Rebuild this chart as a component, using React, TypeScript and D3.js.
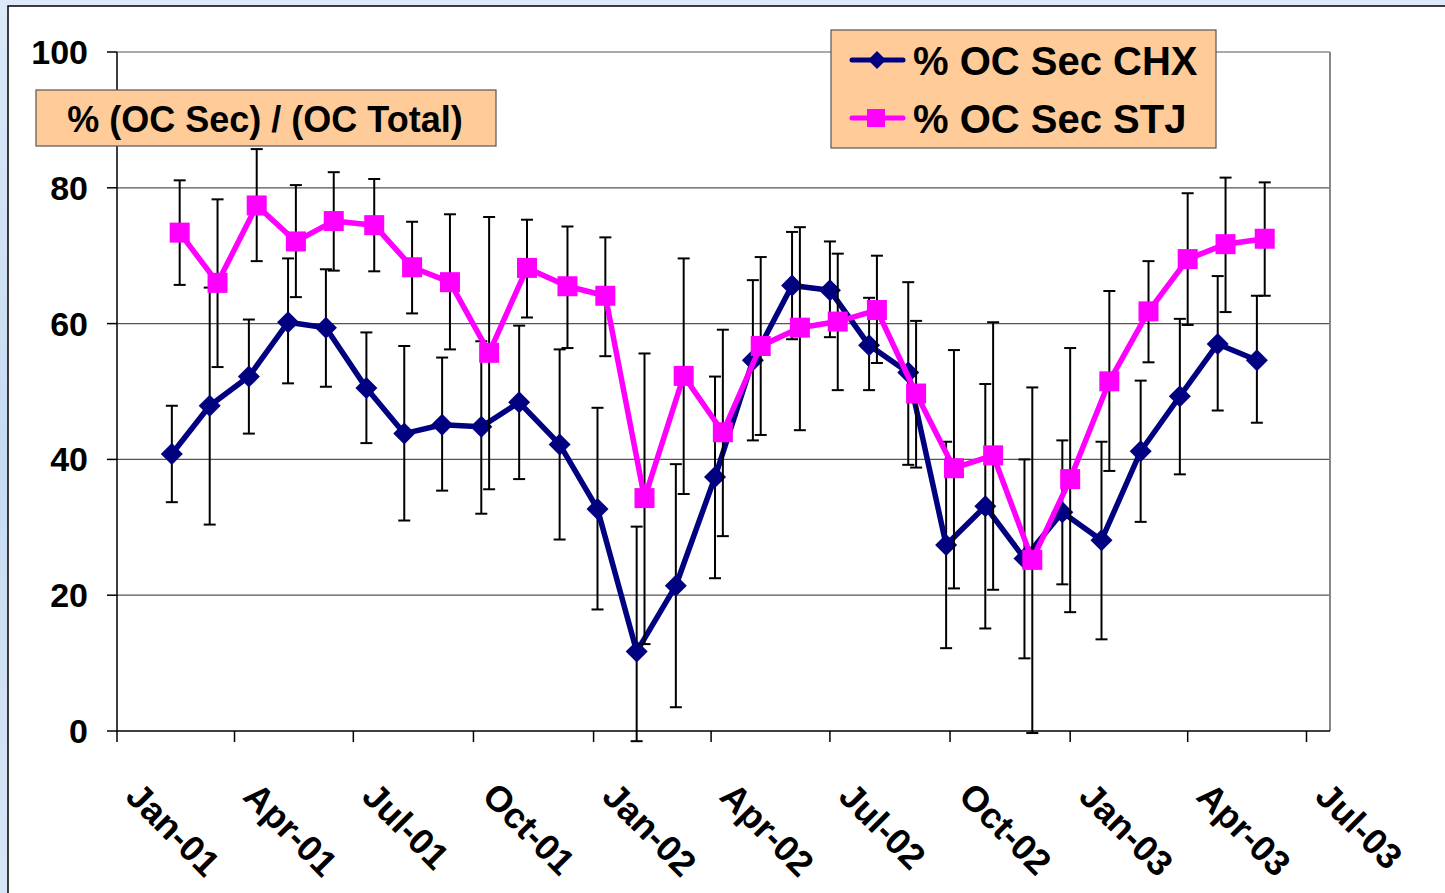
import React from "react";
import * as d3 from "d3";

// sample dates
const chxDates = [
  "2001-02-12", "2001-03-13", "2001-04-12", "2001-05-12", "2001-06-10", "2001-07-11",
  "2001-08-09", "2001-09-07", "2001-10-07", "2001-11-05", "2001-12-06", "2002-01-04",
  "2002-02-03", "2002-03-05", "2002-04-04", "2002-05-03", "2002-06-02", "2002-07-01",
  "2002-07-31", "2002-08-30", "2002-09-28", "2002-10-28", "2002-11-27", "2002-12-26",
  "2003-01-25", "2003-02-24", "2003-03-26", "2003-04-24", "2003-05-24",
];
const stjDates = [
  "2001-02-18", "2001-03-19", "2001-04-18", "2001-05-18", "2001-06-16", "2001-07-17",
  "2001-08-15", "2001-09-13", "2001-10-13", "2001-11-11", "2001-12-12", "2002-01-10",
  "2002-02-09", "2002-03-11", "2002-04-10", "2002-05-09", "2002-06-08", "2002-07-07",
  "2002-08-06", "2002-09-05", "2002-10-04", "2002-11-03", "2002-12-03", "2003-01-01",
  "2003-01-31", "2003-03-02", "2003-04-01", "2003-04-30", "2003-05-30",
];

const chxValues = [40.8, 47.9, 52.2, 60.2, 59.4, 50.5, 43.8, 45.1, 44.8, 48.4, 42.2, 32.7, 11.7, 21.4, 37.4, 54.6, 65.6, 64.9, 56.8, 52.8, 27.4, 33.1, 25.4, 32.2, 28.1, 41.2, 49.3, 57.0, 54.6];
const chxHigh = [47.9, 65.3, 60.6, 69.6, 68.0, 58.7, 56.7, 55.0, 57.4, 59.7, 56.2, 47.6, 30.1, 39.3, 52.2, 66.4, 73.5, 72.1, 63.8, 66.1, 42.6, 51.1, 40.0, 42.8, 42.6, 51.6, 60.7, 67.0, 64.1];
const chxLow = [33.7, 30.4, 43.8, 51.2, 50.7, 42.4, 31.0, 35.4, 32.0, 37.1, 28.2, 17.9, -1.5, 3.5, 22.5, 42.8, 57.7, 58.0, 50.2, 39.2, 12.2, 15.1, 10.7, 21.6, 13.5, 30.8, 37.8, 47.2, 45.4];

const stjValues = [73.4, 66.0, 77.4, 72.1, 75.1, 74.5, 68.3, 66.1, 55.7, 68.2, 65.5, 64.1, 34.3, 52.3, 44.0, 56.7, 59.4, 60.3, 62.0, 49.7, 38.7, 40.6, 25.2, 37.1, 51.5, 61.8, 69.5, 71.7, 72.5];
const stjHigh = [81.1, 78.3, 85.7, 80.4, 82.3, 81.3, 75.0, 76.1, 75.7, 75.3, 74.3, 72.7, 55.6, 69.6, 59.1, 69.8, 74.2, 70.3, 70.0, 60.4, 56.1, 60.2, 50.6, 56.4, 64.8, 69.2, 79.2, 81.5, 80.8];
const stjLow = [65.7, 53.6, 69.2, 63.9, 67.8, 67.7, 61.5, 56.2, 35.6, 60.9, 56.4, 55.2, 12.8, 34.9, 28.7, 43.6, 44.3, 50.2, 54.2, 38.8, 21.0, 20.8, -0.3, 17.5, 38.3, 54.3, 59.8, 61.7, 64.1];

const xTickDates = ["2001-01-01", "2001-04-01", "2001-07-01", "2001-10-01", "2002-01-01", "2002-04-01", "2002-07-01", "2002-10-01", "2003-01-01", "2003-04-01", "2003-07-01"];
const xTickLabels = ["Jan-01", "Apr-01", "Jul-01", "Oct-01", "Jan-02", "Apr-02", "Jul-02", "Oct-02", "Jan-03", "Apr-03", "Jul-03"];
const yTicks = [0, 20, 40, 60, 80, 100];

const W = 1445;
const H = 893;
const FONT = "'Liberation Sans', Arial, sans-serif";
const parse = d3.timeParse("%Y-%m-%d");

export default function App() {
  const x = d3
    .scaleTime()
    .domain([parse("2001-01-01")!, parse("2003-07-19")!])
    .range([117, 1330]);
  const y = d3.scaleLinear().domain([0, 100]).range([731, 52]);

  const series = [
    { name: "% OC Sec CHX", color: "#000080", dates: chxDates, values: chxValues, high: chxHigh, low: chxLow, marker: "diamond" },
    { name: "% OC Sec STJ", color: "#ff00ff", dates: stjDates, values: stjValues, high: stjHigh, low: stjLow, marker: "square" },
  ];

  const line = d3
    .line<[Date, number]>()
    .x((d) => x(d[0]))
    .y((d) => y(d[1]));

  const marker = (kind: string, cx: number, cy: number, color: string, key: any) =>
    kind === "diamond" ? (
      <path key={key} d={`M${cx},${cy - 11}L${cx + 11},${cy}L${cx},${cy + 11}L${cx - 11},${cy}Z`} fill={color} />
    ) : (
      <rect key={key} x={cx - 10} y={cy - 10} width={20} height={20} fill={color} />
    );

  return (
    <div style={{ position: "absolute", left: 0, top: 0 }}>
      <svg width={W} height={H} style={{ display: "block" }}>
        <defs>
          <linearGradient id="bg" x1="0" y1="0" x2="0" y2="1">
            <stop offset="0" stopColor="#dbe9f8" />
            <stop offset="0.5" stopColor="#c7dbf1" />
            <stop offset="1" stopColor="#d6e6f6" />
          </linearGradient>
        </defs>
        <rect width={W} height={H} fill="url(#bg)" />
        <rect x={8} y={6} width={W + 20} height={H + 20} fill="#fff" stroke="#000" strokeWidth={1.5} />

        {/* gridlines */}
        {yTicks.filter((t) => t > 0).map((t) => (
          <line key={t} x1={117} x2={1330} y1={y(t)} y2={y(t)} stroke="#555" strokeWidth={1.2} />
        ))}
        {/* plot area border right */}
        <line x1={1330} x2={1330} y1={y(100)} y2={y(0)} stroke="#888" strokeWidth={2} />

        {/* y axis */}
        <line x1={117} x2={117} y1={y(100)} y2={y(0)} stroke="#000" strokeWidth={1.5} />
        {yTicks.map((t) => (
          <g key={t}>
            <line x1={107} x2={117} y1={y(t)} y2={y(t)} stroke="#000" strokeWidth={1.5} />
            <text x={88} y={y(t) + 12} textAnchor="end" fontFamily={FONT} fontWeight="bold" fontSize={34} fill="#000">
              {t}
            </text>
          </g>
        ))}

        {/* x axis */}
        <line x1={117} x2={1330} y1={y(0)} y2={y(0)} stroke="#000" strokeWidth={1.5} />
        {xTickDates.map((d, i) => {
          const tx = x(parse(d)!);
          return (
            <g key={d}>
              <line x1={tx} x2={tx} y1={y(0)} y2={y(0) + 11} stroke="#000" strokeWidth={1.5} />
              <text
                transform={`translate(${tx + 7},${798}) rotate(45)`}
                fontFamily={FONT}
                fontWeight="bold"
                fontSize={36}
                fill="#000"
              >
                {xTickLabels[i]}
              </text>
            </g>
          );
        })}

        {/* series */}
        {series.map((s) => {
          const pts: [Date, number][] = s.dates.map((d, i) => [parse(d)!, s.values[i]]);
          return (
            <g key={s.name}>
              {s.dates.map((d, i) => {
                const px = x(parse(d)!);
                return (
                  <g key={d} stroke="#000" strokeWidth={2}>
                    <line x1={px} x2={px} y1={y(s.high[i])} y2={y(s.low[i])} />
                    <line x1={px - 6} x2={px + 6} y1={y(s.high[i])} y2={y(s.high[i])} />
                    <line x1={px - 6} x2={px + 6} y1={y(s.low[i])} y2={y(s.low[i])} />
                  </g>
                );
              })}
              <path d={line(pts)!} fill="none" stroke={s.color} strokeWidth={5.5} strokeLinejoin="round" />
              {pts.map((p, i) => marker(s.marker, x(p[0]), y(p[1]), s.color, i))}
            </g>
          );
        })}

        {/* title box */}
        <rect x={36} y={90} width={460} height={56} fill="#ffcc99" stroke="#555" strokeWidth={1.2} />
        <text x={265} y={132} textAnchor="middle" fontFamily={FONT} fontWeight="bold" fontSize={36} fill="#000">
          % (OC Sec) / (OC Total)
        </text>

        {/* legend */}
        <rect x={831} y={30} width={385} height={118} fill="#ffcc99" stroke="#555" strokeWidth={1.2} />
        {series.map((s, i) => {
          const ly = 60 + i * 58;
          return (
            <g key={s.name}>
              <line x1={852} x2={903} y1={ly} y2={ly} stroke={s.color} strokeWidth={5} strokeLinecap="round" />
              {s.marker === "diamond" ? (
                <path d={`M877,${ly - 9}L886,${ly}L877,${ly + 9}L868,${ly}Z`} fill={s.color} />
              ) : (
                <rect x={867} y={ly - 9} width={18} height={18} fill={s.color} />
              )}
              <text x={913} y={ly + 15} fontFamily={FONT} fontWeight="bold" fontSize={40} fill="#000">
                {s.name}
              </text>
            </g>
          );
        })}
      </svg>
    </div>
  );
}
